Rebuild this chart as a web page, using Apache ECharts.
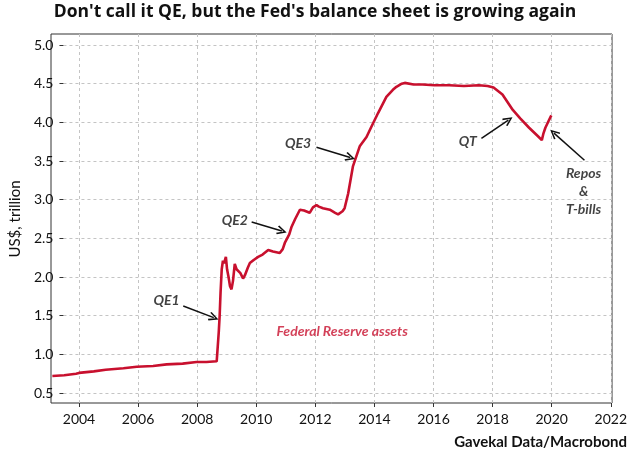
<!DOCTYPE html>
<html><head><meta charset="utf-8">
<script src="https://cdn.jsdelivr.net/npm/echarts@6/dist/echarts.min.js"></script>
<style>html,body{margin:0;padding:0;background:#fff}#c{width:630px;height:459px}</style>
</head><body><div id="c"></div>
<script>
// Federal Reserve total assets, US$ trillion (decimal years)
const years = [2003.10,2003.50,2003.90,2004.00,2004.50,2004.90,2005.50,2005.95,2006.50,2006.96,2007.50,2007.97,2008.30,2008.65,2008.69,2008.72,2008.75,2008.78,2008.82,2008.86,2008.90,2008.96,2009.00,2009.05,2009.10,2009.15,2009.20,2009.26,2009.32,2009.37,2009.45,2009.54,2009.60,2009.70,2009.77,2009.90,2010.05,2010.20,2010.39,2010.55,2010.78,2010.88,2010.95,2011.10,2011.18,2011.30,2011.46,2011.60,2011.79,2011.90,2012.02,2012.10,2012.24,2012.47,2012.65,2012.75,2012.90,2012.97,2013.09,2013.25,2013.48,2013.71,2013.87,2014.10,2014.38,2014.60,2014.72,2014.90,2015.00,2015.30,2015.60,2016.00,2016.50,2017.00,2017.50,2017.80,2018.00,2018.30,2018.65,2018.90,2019.20,2019.50,2019.63,2019.68,2019.75,2019.85,2019.95];
const assets = [0.72,0.73,0.75,0.76,0.78,0.80,0.82,0.84,0.85,0.87,0.88,0.90,0.90,0.91,0.93,1.29,1.50,1.80,2.10,2.21,2.18,2.26,2.10,2.00,1.88,1.84,1.95,2.17,2.10,2.09,2.05,1.98,2.02,2.12,2.18,2.22,2.26,2.29,2.35,2.33,2.31,2.36,2.44,2.55,2.65,2.75,2.87,2.86,2.83,2.90,2.93,2.91,2.89,2.87,2.83,2.81,2.85,2.89,3.08,3.43,3.69,3.81,3.94,4.12,4.33,4.42,4.46,4.50,4.51,4.49,4.49,4.48,4.48,4.47,4.48,4.47,4.45,4.36,4.16,4.05,3.93,3.82,3.77,3.85,3.93,4.01,4.09];

// Tick labels
const yTicks = [0.5,1.0,1.5,2.0,2.5,3.0,3.5,4.0,4.5,5.0];
const xTicks = [2004,2006,2008,2010,2012,2014,2016,2018,2020,2022];

// Annotations (data coordinates)
const annoText = ['QE1','QE2','QE3','QT','Repos\n&\nT-bills'];
const annoX = [2006.96,2009.26,2011.40,2017.13,2021.04];
const annoY = [1.70,2.73,3.73,3.75,3.10];
const arrowFrom = [[2007.52,1.625],[2009.83,2.71],[2012.02,3.677],[2017.59,3.794],[2021.07,3.51]];
const arrowTo = [[2008.55,1.475],[2010.85,2.595],[2013.16,3.545],[2018.50,4.03],[2020.04,3.86]];
const seriesLabel = 'Federal Reserve assets';
const seriesLabelPos = [2010.67,1.30];

const title = "Don't call it QE, but the Fed's balance sheet is growing again";
const yName = 'US$, trillion';
const source = 'Gavekal Data/Macrobond';

const FONT = "Lato,'Open Sans',sans-serif";
const TITLE_FONT = "'Open Sans',Lato,sans-serif";
const RED = '#c8102e';
const X_MIN = 2003.054, X_MAX = 2022, Y_MIN = 0.3707, Y_MAX = 5.1422;

const lineData = years.map((y,i)=>[y, assets[i]]);
const chevron = 'path://M5,0 L10,9 L8.6,10 L5,3.2 L1.4,10 L0,9 Z';

const annoData = annoText.map((t,i)=>({name:t, value:[annoX[i], annoY[i]]}));
annoData.push({name:seriesLabel, value:seriesLabelPos,
  label:{position:'right', distance:0, align:'left', color:RED, fontWeight:'bold', fontSize:14}});

const chart = echarts.init(document.getElementById('c'), null, {renderer:'canvas'});
chart.setOption({
  animation:false,
  backgroundColor:'#fff',
  title:{text:title, left:'center', top:-2,
    textStyle:{fontFamily:TITLE_FONT, fontSize:17.5, fontWeight:'bold', color:'#111'}},
  graphic:[{type:'text', right:3, top:435,
    style:{text:source, fontFamily:FONT, fontSize:15, fontWeight:'bold', fill:'#111'}}],
  grid:[
    {left:51, right:18, top:34, bottom:56, show:true, borderColor:'#333', borderWidth:1, backgroundColor:'transparent'},
    {left:51, right:18, top:45, bottom:66},
    {left:79, right:18, top:34, bottom:56}
  ],
  xAxis:[
    {gridIndex:0, type:'value', min:X_MIN, max:X_MAX, show:false},
    {gridIndex:1, type:'value', min:0, max:1, show:false},
    {gridIndex:2, type:'value', min:xTicks[0], max:xTicks[xTicks.length-1], interval:2,
      axisLine:{show:false},
      axisTick:{show:true, length:4, lineStyle:{color:'#333'}},
      axisLabel:{margin:9, fontFamily:FONT, fontSize:14, color:'#111', formatter:v=>String(v)},
      splitLine:{show:true, lineStyle:{color:'#c4c4c4', type:[3,3], width:1}}}
  ],
  yAxis:[
    {gridIndex:0, type:'value', min:Y_MIN, max:Y_MAX, show:false},
    {gridIndex:1, type:'value', min:yTicks[0], max:yTicks[yTicks.length-1], interval:0.5,
      name:yName, nameLocation:'middle', nameGap:33,
      nameTextStyle:{fontFamily:FONT, fontSize:15, color:'#111'},
      axisLine:{show:false},
      axisTick:{show:true, length:4, lineStyle:{color:'#333'}},
      axisLabel:{margin:10, fontFamily:FONT, fontSize:14, color:'#111', formatter:v=>v.toFixed(1)},
      splitLine:{show:true, lineStyle:{color:'#c4c4c4', type:[3,3], width:1}}},
    {gridIndex:2, type:'value', min:0, max:1, show:false}
  ],
  series:[
    {type:'line', name:seriesLabel, xAxisIndex:0, yAxisIndex:0, data:lineData,
      showSymbol:false, symbol:'none', lineStyle:{color:RED, width:2.6}, z:3,
      markLine:{silent:true, symbol:['none', chevron], symbolSize:[9,10],
        label:{show:false}, lineStyle:{type:'solid', color:'#111', width:1.5},
        data:arrowFrom.map((f,i)=>[{coord:f},{coord:arrowTo[i]}])}},
    {type:'scatter', xAxisIndex:0, yAxisIndex:0, symbolSize:0, silent:true, data:annoData,
      label:{show:true, position:'inside', formatter:p=>p.name, fontFamily:FONT,
        fontStyle:'italic', fontWeight:'bold', fontSize:14, color:'#111', lineHeight:18, align:'center'}, z:5}
  ]
});
</script></body></html>
